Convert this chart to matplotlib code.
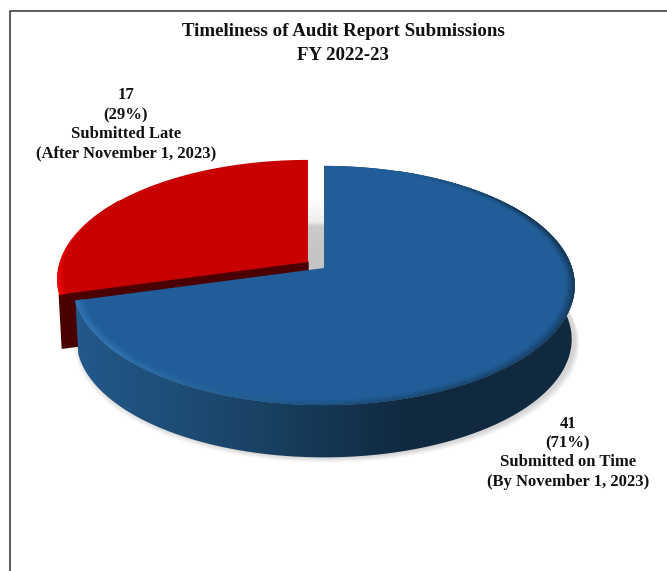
import matplotlib
matplotlib.use('Agg')
import matplotlib.pyplot as plt
import numpy as np
from matplotlib.collections import PolyCollection
from matplotlib.colors import LinearSegmentedColormap, to_rgb
from matplotlib.patches import Polygon

# data
categories = ['Submitted on Time', 'Submitted Late']
deadlines = ['(By November 1, 2023)', '(After November 1, 2023)']
counts = [41, 17]
title_lines = ['Timeliness of Audit Report Submissions', 'FY 2022-23']

# look of the 3D pie, all in pixels of the 667x571 image
APEX = (324, 268)
RX, RY, PERSP = 248, 117, 0.146
DEPTH = 54
EXPLODE = (-16, -6)
SERIF = 'Liberation Serif'


def project(theta, scale=1.0, drop=0.0, off=(0, 0)):
    # theta in degrees, clockwise from 12 o'clock
    t = np.radians(theta)
    u = np.sin(t) * scale
    v = -np.cos(t) * scale
    w = 1 - PERSP * v
    shrink = 1 - 0.012 * drop / DEPTH
    x = APEX[0] + off[0] + RX * u / w * shrink
    y = APEX[1] + off[1] + RY * v / w * shrink + drop
    return np.column_stack([x, y])


def mix(c1, c2, f):
    f = np.clip(f, 0, 1)
    return tuple((1 - f) * np.array(to_rgb(c1)) + f * np.array(to_rgb(c2)))


def face(start, end, scale=1.0, off=(0, 0)):
    th = np.linspace(start, end, 200)
    apex = np.array([[APEX[0] + off[0], APEX[1] + off[1]]])
    return np.vstack([apex, project(th, scale, 0, off)])


def bevel(start, end, off, color_fn, width=0.035, rings=7):
    th = np.linspace(start, end, 160)
    polys, cols = [], []
    for k in range(rings):
        s1 = 1 - width * k / rings
        s2 = 1 - width * (k + 1) / rings
        a = project(th, s1, 0, off)
        b = project(th, s2, 0, off)
        for i in range(len(th) - 1):
            polys.append([a[i], a[i + 1], b[i + 1], b[i]])
            cols.append(color_fn(th[i], k / rings))
    return PolyCollection(polys, facecolors=cols, edgecolors=cols, linewidths=0.3)


def blue_rim(theta, f):
    # no rim at the back, dark at the front right, lighter at the left
    if theta < 60:
        edge = mix('#215e99', '#12304b', (theta - 20) / 40)
    elif theta < 170:
        edge = mix('#12304b', '#1b4a75', (theta - 60) / 110)
    else:
        edge = mix('#1b4a75', '#3277b3', (theta - 170) / 60)
    return mix(edge, '#215e99', f)


def red_rim(theta, f):
    return mix('#f80000', '#c80000', f + (theta - 255) / 50)


fig = plt.figure(figsize=(6.67, 5.71), dpi=100, facecolor='white')
ax = fig.add_axes([0, 0, 1, 1])
ax.axis('off')

# outer frame, only top and left show
ax.plot([10, 10, 667], [571, 10.5, 10.5], color='#404040', lw=1.2)

share = np.array(counts) / sum(counts) * 360
blue_end = share[0]

# soft shadow under the pie
for i, alpha in zip(range(6), [0.05, 0.05, 0.06, 0.06, 0.07, 0.07]):
    grow = 6 - i
    th = np.linspace(0, 360, 300)
    pts = project(th, drop=DEPTH + grow * 0.9)
    pts[:, 0] = APEX[0] + (pts[:, 0] - APEX[0]) * (1 + grow * 0.0035) + 3
    ax.add_patch(Polygon(pts, closed=True, fc='#808080', ec='none', alpha=alpha, zorder=1))

# shadow in the gap between the two slices
for i in range(14):
    y0 = APEX[1] - 68 + i * 4
    ax.fill_between([APEX[0] - 16, APEX[0]], y0, APEX[1] + 2, color='#b0b0b0', alpha=0.03,
                    lw=0, zorder=1.5)

# red slice, pulled out to the upper left
cut = np.vstack([project([blue_end], off=EXPLODE), project([blue_end], drop=DEPTH, off=EXPLODE),
                 [[APEX[0] + EXPLODE[0], APEX[1] + EXPLODE[1] + DEPTH]],
                 [[APEX[0] + EXPLODE[0], APEX[1] + EXPLODE[1]]]])
ax.add_patch(Polygon(cut, closed=True, fc='#4a0000', ec='#4a0000', lw=1,
                     joinstyle='round', zorder=2))
ax.add_patch(Polygon(face(blue_end, 360, off=EXPLODE), closed=True, fc='#c80000', ec='none', zorder=3))
red_ring = bevel(blue_end, blue_end + 50, EXPLODE, red_rim, width=0.03, rings=5)
red_ring.set_zorder(3.5)
ax.add_collection(red_ring)

# blue slice, the side is a left-to-right gradient clipped to the rim
side_cmap = LinearSegmentedColormap.from_list('side', ['#24598c', '#1a4568', '#10293f', '#10293f'])
th_b = np.linspace(0, blue_end, 300)
side_shape = Polygon(np.vstack([project(th_b), project(th_b[::-1], drop=DEPTH)]),
                     closed=True, fc='none', ec='none', transform=ax.transData)
ax.add_patch(side_shape)
img = ax.imshow(np.linspace(0, 1, 256).reshape(1, -1), cmap=side_cmap, aspect='auto',
                extent=(70, 580, 470, 160), zorder=4)
img.set_clip_path(side_shape)
ax.add_patch(Polygon(face(0, blue_end), closed=True, fc='#215e99', ec='none', zorder=5))
ring = bevel(20, blue_end, (0, 0), blue_rim)
ring.set_zorder(6)
ax.add_collection(ring)

# labels
bold = dict(family=SERIF, weight='bold', ha='center', va='center', color='#111111')
for line, y in zip(title_lines, [32, 55]):
    ax.text(343, y, line, fontsize=13.6, **bold)

pct = [round(100 * c / sum(counts)) for c in counts]
late_lines = [str(counts[1]), f'({pct[1]}%)', categories[1], deadlines[1]]
ontime_lines = [str(counts[0]), f'({pct[0]}%)', categories[0], deadlines[0]]
for line, y in zip(late_lines, [95, 115, 134, 153]):
    ax.text(126, y, line, fontsize=12, **bold)
for line, y in zip(ontime_lines, [424, 443, 462, 482]):
    ax.text(568, y, line, fontsize=12, **bold)

ax.set_xlim(0, 667)
ax.set_ylim(571, 0)
fig.savefig('out.png', dpi=100)
